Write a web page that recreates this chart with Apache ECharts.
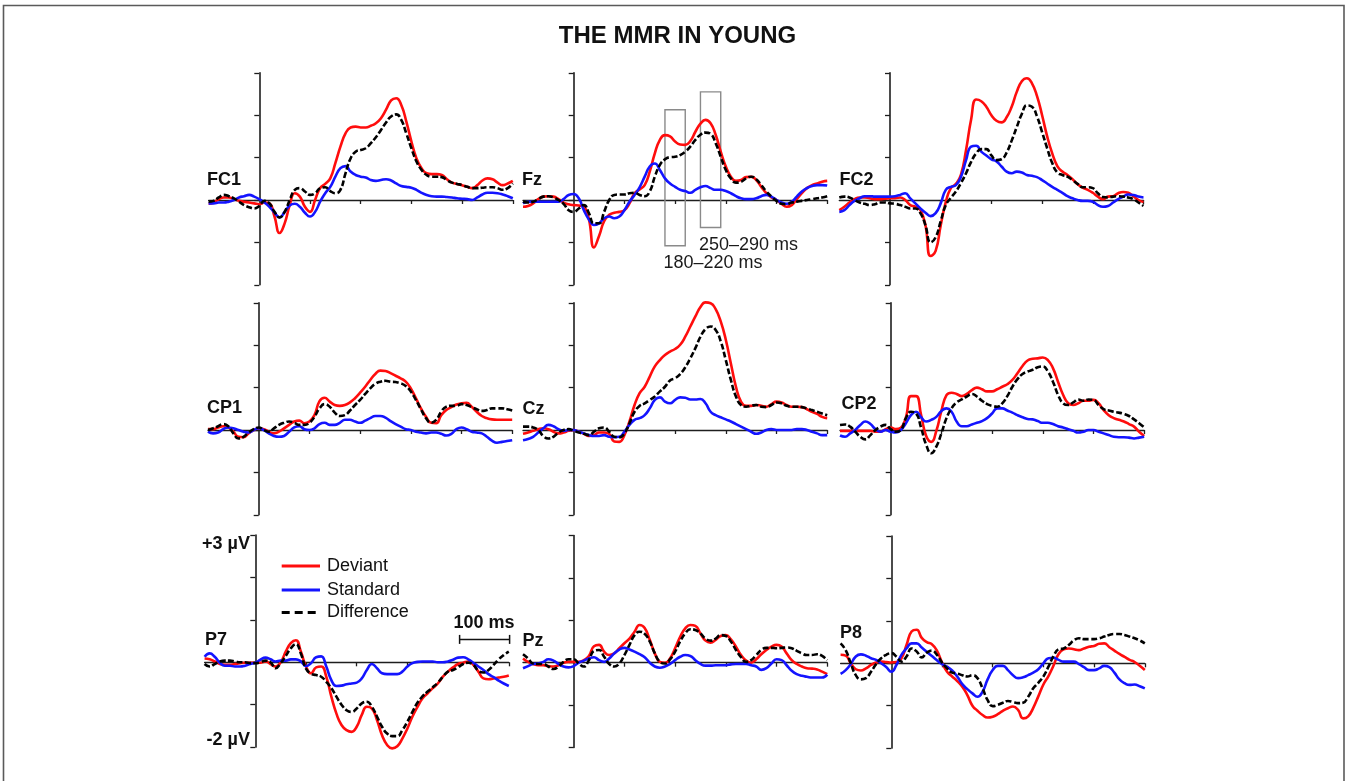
<!DOCTYPE html>
<html><head><meta charset="utf-8">
<script src="https://cdn.jsdelivr.net/npm/echarts@6/dist/echarts.min.js"></script>
<style>html,body{margin:0;padding:0;background:#fff}#c{width:1346px;height:781px}</style>
</head><body><div id="c"></div><script>
// ---- data (ms, µV) ----
const times = [-100,-90,-80,-70,-60,-50,-40,-30,-20,-10,0,
 10,20,30,40,50, 60,70,80,90,100, 110,120,130,140,150, 160,170,180,190,200,
 210,220,230,240,250, 260,270,280,290,300, 310,320,330,340,350, 360,370,380,390,400,
 410,420,430,440,450, 460,470,480,490,500];
const channels = ['FC1','Fz','FC2','CP1','Cz','CP2','P7','Pz','P8'];
const conditions = ['Deviant','Standard','Difference'];

const fc1Deviant = [-0.09,-0.06,0.02,0.06,0.06,0.02,-0.02,-0.04,-0.06,-0.08,-0.1,
 -0.06,-0.08,-0.39,-0.78,-0.55, -0.12,0.16,0.08,-0.16,-0.28, 0,0.28,0.38,0.51,0.87,
 1.26,1.57,1.71,1.73,1.71, 1.71,1.75,1.81,1.93,2.13, 2.35,2.4,2.24,1.85,1.38,
 0.98,0.75,0.63,0.61,0.61, 0.59,0.49,0.41,0.38,0.35, 0.31,0.28,0.35,0.46,0.51, 0.49,0.41,0.35,0.39,0.45];
const fc1Standard = [-0.08,-0.08,-0.06,-0.06,-0.04,0,0.06,0.09,0.12,0.08,0.02,
 -0.06,-0.16,-0.3,-0.41,-0.28, -0.13,-0.09,-0.16,-0.3,-0.39, -0.28,-0.04,0.16,0.31,0.55,
 0.75,0.8,0.67,0.59,0.55, 0.53,0.47,0.45,0.47,0.49, 0.46,0.39,0.33,0.31,0.29,
 0.24,0.17,0.12,0.09,0.08, 0.08,0.07,0.06,0.04,0.03, 0.02,0,0.06,0.13,0.17, 0.17,0.16,0.13,0.09,0.04];
const fc1Difference = [-0.04,-0.02,0.06,0.12,0.09,0.04,-0.04,-0.12,-0.17,-0.2,-0.14,
 -0.02,-0.08,-0.28,-0.41,-0.28, 0,0.24,0.28,0.2,0.12, 0.16,0.28,0.3,0.21,0.16,
 0.24,0.63,0.98,1.14,1.18, 1.22,1.34,1.48,1.65,1.83, 1.97,2.02,1.89,1.57,1.22,
 0.91,0.71,0.59,0.55,0.55, 0.54,0.47,0.41,0.38,0.35, 0.31,0.28,0.28,0.29,0.3, 0.3,0.28,0.24,0.28,0.39];

const fzDeviant = [-0.16,-0.14,-0.08,0.02,0.08,0.09,0.08,0.02,-0.06,-0.1,-0.12,
 -0.13,-0.16,-0.45,-1.12,-0.85, -0.5,-0.35,-0.3,-0.28,-0.24, -0.08,0.16,0.25,0.35,0.67,
 1.1,1.42,1.53,1.5,1.38, 1.31,1.3,1.39,1.61,1.8, 1.89,1.81,1.54,1.14,0.79,
 0.55,0.45,0.47,0.54,0.55, 0.47,0.31,0.16,0.06,0, -0.09,-0.16,-0.12,0.02,0.16, 0.28,0.35,0.39,0.43,0.45];
const fzStandard = [-0.08,-0.04,-0.04,-0.04,-0.04,-0.04,-0.04,-0.04,0.02,0.12,0.14,
 0.04,-0.24,-0.46,-0.59,-0.55, -0.43,-0.39,-0.43,-0.39,-0.24, -0.04,0.12,0.3,0.55,0.79,
 0.86,0.71,0.51,0.39,0.31, 0.24,0.21,0.17,0.24,0.3, 0.33,0.28,0.24,0.24,0.21,
 0.16,0.09,0.04,0.02,0.02, 0.04,0.09,0.12,0.08,0, -0.06,-0.09,-0.04,0.08,0.2, 0.28,0.33,0.35,0.35,0.34];
const fzDifference = [-0.04,-0.06,-0.04,0.02,0.08,0.09,0.06,0,-0.09,-0.24,-0.28,
 -0.2,-0.12,-0.31,-0.55,-0.55, -0.28,0,0.12,0.13,0.13, 0.16,0.17,0.12,0.09,0.2,
 0.55,0.83,0.96,1.01,1.02, 1.06,1.14,1.26,1.42,1.54, 1.59,1.56,1.34,1.02,0.71,
 0.51,0.41,0.43,0.51,0.55, 0.49,0.35,0.2,0.08,-0.02, -0.09,-0.1,-0.06,-0.04,-0.02, 0,0.02,0.04,0.06,0.09];

const fc2Deviant = [-0.24,-0.16,-0.06,0.02,0.06,0.06,0.04,0.02,0.02,0.03,0.04,
 0.04,0.06,0,-0.12,-0.16, -0.24,-0.6,-1.32,-1.2,-0.6, -0.05,0.28,0.38,0.6,1.18,
 1.9,2.37,2.33,2.2,2.0, 1.87,1.83,1.95,2.2,2.55, 2.8,2.87,2.75,2.45,2.0,
 1.5,1.1,0.8,0.67,0.59, 0.49,0.37,0.29,0.24,0.17, 0.08,0.02,0.08,0.09,0.16, 0.19,0.17,0.09,0,-0.05];
const fc2Standard = [-0.28,-0.24,-0.12,-0.02,0.04,0.09,0.09,0.08,0.08,0.08,0.08,
 0.09,0.12,0.16,0.04,-0.08, -0.2,-0.3,-0.38,-0.31,-0.08, 0.24,0.31,0.35,0.55,0.94,
 1.26,1.28,1.14,1.05,0.96, 0.91,0.79,0.67,0.63,0.67, 0.65,0.59,0.57,0.54,0.47,
 0.39,0.31,0.24,0.17,0.09, 0.04,0,-0.02,-0.02,-0.04, -0.12,-0.16,-0.14,-0.06,0.02, 0.08,0.13,0.12,0.08,0.06];
const fc2Difference = [0.06,0.08,0.06,0,-0.06,-0.09,-0.12,-0.1,-0.06,-0.06,-0.08,
 -0.09,-0.12,-0.16,-0.2,-0.2, -0.31,-0.6,-1.0,-0.88,-0.5, -0.12,0.05,0.2,0.4,0.63,
 0.9,1.1,1.2,1.2,1.05, 0.94,0.96,1.12,1.4,1.72, 2.03,2.23,2.2,1.97,1.6,
 1.22,0.87,0.65,0.59,0.55, 0.47,0.38,0.3,0.3,0.28, 0.16,0.07,0.06,0.08,0.09, 0.08,0.06,0.02,-0.06,-0.14];

const cp1Deviant = [0.02,0.02,0.06,0.09,0.06,-0.04,-0.16,-0.17,-0.08,0,0.04,
 0.02,-0.04,-0.08,-0.04,0.04, 0.12,0.2,0.22,0.16,0.2, 0.35,0.68,0.76,0.67,0.59,
 0.57,0.59,0.65,0.75,0.88, 1.02,1.18,1.32,1.4,1.39, 1.34,1.28,1.22,1.14,0.98,
 0.75,0.51,0.31,0.17,0.16, 0.35,0.47,0.54,0.6,0.63, 0.64,0.55,0.43,0.33,0.28, 0.25,0.24,0.24,0.24,0.24];
const cp1Standard = [-0.04,-0.08,-0.06,0.02,0.06,0.04,0,-0.04,-0.06,0,0.04,
 0,-0.08,-0.14,-0.16,-0.14, -0.04,0.06,0.09,0.02,0, 0.04,0.14,0.17,0.12,0.12,
 0.17,0.24,0.24,0.2,0.17, 0.22,0.28,0.33,0.33,0.29, 0.21,0.14,0.08,0.02,0,
 -0.04,-0.06,-0.08,-0.06,-0.06, -0.09,-0.13,-0.09,0.02,0.06, 0.02,-0.04,-0.06,-0.08,-0.16, -0.25,-0.3,-0.28,-0.26,-0.24];
const cp1Difference = [0,0.04,0.09,0.14,0.09,-0.08,-0.2,-0.16,-0.06,0.02,0.06,
 0,-0.04,0.04,0.12,0.17, 0.2,0.17,0.12,0.12,0.17, 0.31,0.51,0.61,0.55,0.41,
 0.33,0.35,0.46,0.59,0.71, 0.85,0.98,1.09,1.14,1.16, 1.14,1.13,1.1,1.04,0.91,
 0.71,0.49,0.28,0.17,0.24, 0.43,0.55,0.57,0.57,0.61, 0.59,0.54,0.49,0.45,0.47, 0.51,0.51,0.51,0.49,0.46];

const czDeviant = [-0.09,-0.06,-0.02,0.02,0.04,0.02,-0.04,-0.08,-0.06,-0.02,0,
 -0.04,-0.09,-0.14,-0.12,-0.06, -0.06,-0.09,-0.27,-0.28,-0.12, 0.2,0.59,0.87,1.02,1.26,
 1.5,1.65,1.77,1.85,1.91, 2.01,2.2,2.44,2.68,2.9, 3.01,2.99,2.85,2.56,2.13,
 1.57,1.02,0.67,0.57,0.57, 0.59,0.57,0.55,0.61,0.67, 0.65,0.59,0.55,0.55,0.54, 0.49,0.43,0.38,0.31,0.28];
const czStandard = [-0.24,-0.21,-0.16,-0.06,0.04,0.12,0.09,0.02,-0.02,0,0,
 -0.04,-0.08,-0.12,-0.14,-0.14, -0.12,-0.16,-0.17,-0.16,-0.04, 0.12,0.24,0.28,0.35,0.51,
 0.71,0.77,0.67,0.63,0.71, 0.77,0.76,0.72,0.72,0.73, 0.63,0.43,0.35,0.3,0.25,
 0.2,0.14,0.08,0.02,-0.04, -0.09,-0.06,0,0.02,0, 0,0,0,0.02,0.02, 0,-0.04,-0.08,-0.12,-0.12];
const czDifference = [0.08,0.08,0.06,0,-0.14,-0.2,-0.16,-0.06,0,0.02,-0.02,
 -0.06,-0.09,-0.12,-0.04,0.04, 0.06,-0.04,-0.16,-0.17,-0.08, 0.16,0.43,0.57,0.63,0.71,
 0.79,0.91,1.02,1.17,1.22, 1.32,1.48,1.69,1.93,2.2, 2.38,2.44,2.36,2.09,1.65,
 1.18,0.79,0.59,0.55,0.57, 0.59,0.55,0.54,0.59,0.65, 0.63,0.57,0.55,0.55,0.54, 0.51,0.47,0.43,0.39,0.35];

const cp2Deviant = [-0.02,-0.02,-0.02,-0.02,-0.02,-0.02,-0.02,-0.04,-0.04,0.02,0.06,
 0.02,0.05,0.3,0.8,0.8, 0.35,-0.14,-0.28,-0.02,0.45, 0.82,0.88,0.85,0.8,0.85,
 0.94,1.0,0.96,0.91,0.91, 0.96,1.02,1.08,1.18,1.34, 1.51,1.64,1.68,1.69,1.71,
 1.65,1.46,1.14,0.83,0.63, 0.59,0.63,0.69,0.69,0.71, 0.63,0.47,0.35,0.28,0.24, 0.2,0.14,0.08,-0.04,-0.14];
const cp2Standard = [-0.13,-0.16,-0.08,0,0.12,0.2,0.14,0.02,-0.04,0,-0.04,
 -0.06,0,0.16,0.35,0.43, 0.3,0.2,0.24,0.31,0.45, 0.51,0.43,0.2,0.09,0.09,
 0.13,0.17,0.21,0.28,0.39, 0.51,0.51,0.46,0.41,0.35, 0.3,0.26,0.25,0.21,0.17,
 0.17,0.14,0.09,0.06,0.02, -0.02,-0.06,-0.04,0,0, -0.04,-0.08,-0.12,-0.16,-0.17, -0.17,-0.18,-0.2,-0.18,-0.16];
const cp2Difference = [0.12,0.13,0.08,-0.04,-0.16,-0.22,-0.12,0,0.08,0.12,0.02,
 -0.04,0,0.28,0.43,0.39, 0.05,-0.35,-0.55,-0.39,-0.08, 0.28,0.51,0.65,0.72,0.79,
 0.85,0.79,0.69,0.61,0.57, 0.55,0.63,0.8,1.02,1.2, 1.32,1.38,1.42,1.48,1.5,
 1.38,1.14,0.83,0.63,0.59, 0.65,0.72,0.69,0.72,0.71, 0.59,0.49,0.46,0.43,0.41, 0.38,0.33,0.25,0.16,0.06];

const p7Deviant = [0.09,0.07,0.02,-0.04,-0.06,-0.06,-0.04,-0.02,-0.01,-0.01,-0.01,
 -0.01,0.02,-0.04,-0.1,0, 0.25,0.45,0.52,0.25,-0.1, -0.26,-0.12,-0.1,-0.34,-0.81,
 -1.21,-1.48,-1.6,-1.64,-1.52, -1.24,-1.05,-1.09,-1.36,-1.72, -1.95,-2.03,-1.98,-1.8,-1.56,
 -1.28,-1.05,-0.85,-0.73,-0.61, -0.5,-0.34,-0.22,-0.12,-0.04, -0.01,0.02,-0.06,-0.22,-0.38, -0.4,-0.38,-0.36,-0.34,-0.31];
const p7Standard = [0.13,0.21,0.13,-0.01,-0.08,-0.08,-0.1,-0.1,-0.08,-0.04,-0.01,
 0.06,0.11,0.07,0.02,0.04, 0.04,0.07,0.07,0.02,-0.09, -0.02,0.12,0.14,-0.1,-0.42,
 -0.56,-0.55,-0.52,-0.5,-0.48, -0.38,-0.18,-0.04,-0.14,-0.26, -0.28,-0.28,-0.28,-0.22,-0.1,
 -0.02,0.01,0.02,0.02,0.02, 0,0,0.02,0.06,0.11, 0.12,0.07,-0.01,-0.1,-0.18, -0.28,-0.35,-0.43,-0.5,-0.56];
const p7Difference = [-0.04,-0.1,-0.04,0.02,0.04,0.04,0.02,0,0,-0.02,-0.02,
 0,0.04,0,-0.14,-0.02, 0.15,0.33,0.43,0.2,-0.15, -0.27,-0.3,-0.34,-0.46,-0.61,
 -0.81,-1.0,-1.13,-1.17,-1.09, -0.97,-0.93,-1.05,-1.28,-1.52, -1.68,-1.74,-1.74,-1.6,-1.4,
 -1.17,-0.95,-0.8,-0.69,-0.59, -0.48,-0.34,-0.22,-0.18,-0.12, -0.04,-0.01,-0.06,-0.2,-0.24, -0.18,-0.06,0.07,0.17,0.25];

const pzDeviant = [0.1,0.02,-0.03,-0.06,-0.06,-0.08,-0.09,-0.06,0,0.02,0.02,
 0.02,0.06,0.16,0.39,0.42, 0.26,0.18,0.22,0.34,0.46, 0.57,0.73,0.89,0.82,0.54,
 0.22,0.02,0,0.1,0.34, 0.61,0.81,0.89,0.87,0.69, 0.52,0.47,0.54,0.63,0.65,
 0.55,0.38,0.18,0.05,0, 0.08,0.2,0.3,0.38,0.42, 0.38,0.22,0.06,-0.03,-0.09, -0.13,-0.14,-0.16,-0.21,-0.27];
const pzStandard = [-0.13,-0.08,-0.03,-0.02,0.02,0.08,0.05,-0.03,-0.09,-0.11,-0.08,
 0,0.05,0.1,0.13,0.06, 0.02,0.1,0.22,0.31,0.35, 0.31,0.26,0.2,0.13,0,
 -0.09,-0.12,-0.09,-0.03,0.06, 0.14,0.18,0.16,0.06,-0.03, -0.07,-0.07,-0.06,-0.06,-0.06,
 -0.04,-0.03,-0.03,-0.03,-0.06, -0.09,-0.17,-0.13,-0.02,0.08, 0.06,-0.06,-0.19,-0.27,-0.31, -0.33,-0.35,-0.35,-0.35,-0.28];
const pzDifference = [0.2,0.1,-0.02,-0.03,-0.03,-0.09,-0.15,-0.09,0.02,0.08,0.08,
 -0.02,-0.09,0.06,0.28,0.3, 0.14,-0.03,-0.09,-0.02,0.18, 0.42,0.65,0.73,0.68,0.5,
 0.22,0.02,-0.02,0.08,0.26, 0.5,0.69,0.79,0.77,0.69, 0.57,0.52,0.57,0.65,0.63,
 0.5,0.3,0.13,0.02,0.06, 0.18,0.3,0.35,0.35,0.34, 0.35,0.36,0.34,0.28,0.22, 0.18,0.18,0.2,0.16,0.06];

const p8Deviant = [0.2,0.18,0,-0.14,-0.17,-0.12,-0.04,0.02,0.04,0.03,0.02,
 0.03,0.12,0.43,0.75,0.79, 0.6,0.5,0.45,0.3,0.02, -0.2,-0.31,-0.42,-0.55,-0.75,
 -1.0,-1.12,-1.22,-1.28,-1.26, -1.2,-1.12,-1.06,-1.02,-1.1, -1.3,-1.25,-1.05,-0.78,-0.5,
 -0.3,-0.05,0.22,0.33,0.35, 0.33,0.31,0.35,0.39,0.41, 0.46,0.47,0.38,0.3,0.22, 0.15,0.08,0.03,-0.06,-0.16];
const p8Standard = [-0.25,-0.16,-0.02,0.16,0.21,0.18,0.12,0.08,0,-0.09,-0.2,
 -0.04,0.2,0.35,0.47,0.47, 0.37,0.27,0.17,0.07,-0.02, -0.08,-0.17,-0.31,-0.49,-0.61,
 -0.71,-0.79,-0.67,-0.38,-0.16, -0.06,-0.06,-0.16,-0.28,-0.35, -0.33,-0.28,-0.22,-0.14,0,
 0.12,0.13,0.08,0.04,0.04, 0.04,-0.02,-0.09,-0.16,-0.16, -0.12,-0.06,-0.09,-0.22,-0.38, -0.47,-0.51,-0.5,-0.54,-0.59];
const p8Difference = [0.47,0.31,0,-0.28,-0.38,-0.35,-0.2,-0.02,0.12,0.2,0.24,
 0.16,0.04,0.16,0.35,0.28, 0.14,0.25,0.3,0.2,0.02, -0.12,-0.22,-0.24,-0.28,-0.31,
 -0.28,-0.35,-0.59,-0.87,-1.01, -0.98,-0.93,-0.89,-0.91,-0.94, -0.93,-0.79,-0.59,-0.46,-0.31,
 -0.08,0.17,0.33,0.35,0.43, 0.54,0.59,0.57,0.57,0.57, 0.59,0.63,0.67,0.69,0.69, 0.67,0.63,0.59,0.54,0.47];

// analysis windows drawn in Fz (ms) and their box extents (µV)
const windowsMs = [[180, 220], [250, 290]];
const windowBoxUv = [[2.13, -1.08], [2.55, -0.65]];
const windowLabels = ['180–220 ms', '250–290 ms'];
const legendLabels = ['Deviant', 'Standard', 'Difference'];
const yScaleLabels = ['+3 µV', '-2 µV'];
const timeBarLabel = '100 ms';
const title = 'THE MMR IN YOUNG';

const panelData = [
  [fc1Deviant, fc1Standard, fc1Difference],
  [fzDeviant, fzStandard, fzDifference],
  [fc2Deviant, fc2Standard, fc2Difference],
  [cp1Deviant, cp1Standard, cp1Difference],
  [czDeviant, czStandard, czDifference],
  [cp2Deviant, cp2Standard, cp2Difference],
  [p7Deviant, p7Standard, p7Difference],
  [pzDeviant, pzStandard, pzDifference],
  [p8Deviant, p8Standard, p8Difference]
];

// ---- layout ----
const T_MIN = -100, T_MAX = 500, V_MIN = -2, V_MAX = 3;
const PX_PER_MS = 0.507, PX_PER_UV = 42.4;
const onsetX = [259.3, 573.7, 890, 258.7, 573.7, 890.7, 255.3, 573.7, 891.3];
const zeroY = [200, 200, 200, 430, 430, 430, 662.3, 662.7, 663.3];
const labelPos = [[207,180],[522,180.5],[839.5,180],[207,408.5],[522.5,409],[841.5,404],[205,640.5],[522.5,641],[840,633]];
const COLORS = { Deviant: '#ff0d0d', Standard: '#1414ff', Difference: '#000000' };
const FONT = '"Liberation Sans", Arial, sans-serif';
const AX = { color: '#1e1e1e', width: 1.3 };

const grids = [], xAxes = [], yAxes = [], series = [];
channels.forEach((ch, i) => {
  grids.push({
    left: onsetX[i] + T_MIN * PX_PER_MS,
    top: zeroY[i] - V_MAX * PX_PER_UV,
    width: (T_MAX - T_MIN) * PX_PER_MS,
    height: (V_MAX - V_MIN) * PX_PER_UV,
    containLabel: false, outerBoundsMode: 'none'
  });
  xAxes.push({
    type: 'value', gridIndex: i, min: T_MIN, max: T_MAX, interval: 100,
    axisLine: { show: true, onZero: true, lineStyle: AX },
    axisTick: { show: true, length: 4, customValues: [100, 200, 300, 400, 500], lineStyle: AX },
    axisLabel: { show: false }, splitLine: { show: false }
  });
  yAxes.push({
    type: 'value', gridIndex: i, min: V_MIN, max: V_MAX, interval: 1,
    axisLine: { show: true, onZero: true, lineStyle: { color: '#1e1e1e', width: 1.6 } },
    axisTick: { show: true, length: 5, lineStyle: AX },
    axisLabel: { show: false }, splitLine: { show: false }
  });
  // draw order: Standard, Deviant, Difference
  [1, 0, 2].forEach(ci => {
    const cond = conditions[ci];
    const s = {
      type: 'line', name: cond, xAxisIndex: i, yAxisIndex: i,
      data: times.map((t, k) => [t, panelData[i][ci][k]]),
      smooth: 0.5, showSymbol: false, symbol: 'none', silent: true, animation: false,
      clip: false,
      lineStyle: { color: COLORS[cond], width: 2.6, type: cond === 'Difference' ? [6, 2.5] : 'solid', cap: 'butt' },
      z: 3 + ci
    };
    if (ch === 'Fz' && cond === 'Standard') {
      s.markArea = {
        silent: true,
        itemStyle: { color: 'rgba(0,0,0,0)', borderColor: '#8a8a8a', borderWidth: 1.4 },
        label: { show: false },
        data: windowsMs.map((w, k) => [{ coord: [w[0], windowBoxUv[k][0]] }, { coord: [w[1], windowBoxUv[k][1]] }])
      };
    }
    series.push(s);
  });
});

// ---- annotations ----
const graphics = [];
graphics.push({ type: 'rect', silent: true, z: -10, shape: { x: 3.5, y: 5.5, width: 1340.5, height: 800 },
  style: { fill: 'none', stroke: '#5a5a5a', lineWidth: 1.6 } });
graphics.push({ type: 'text', x: 677.5, y: 36, silent: true,
  style: { text: title, font: 'bold 24px ' + FONT, fill: '#111', align: 'center', verticalAlign: 'middle' } });
channels.forEach((ch, i) => {
  graphics.push({ type: 'text', x: labelPos[i][0], y: labelPos[i][1], silent: true, z: 20,
    style: { text: ch, font: 'bold 18px ' + FONT, fill: '#111', align: 'left', verticalAlign: 'middle' } });
});
// window labels under the Fz boxes
const fzIdx = channels.indexOf('Fz');
windowsMs.forEach((w, k) => {
  const x = onsetX[fzIdx] + w[0] * PX_PER_MS - 1.5;
  const y = zeroY[fzIdx] - windowBoxUv[k][1] * PX_PER_UV + 17.5;
  graphics.push({ type: 'text', x: x, y: y, silent: true,
    style: { text: windowLabels[k], font: '18px ' + FONT, fill: '#1a1a1a', align: 'left', verticalAlign: 'middle' } });
});
// µV scale labels on P7
const p7 = channels.indexOf('P7');
graphics.push({ type: 'text', x: 250, y: zeroY[p7] - V_MAX * PX_PER_UV + 9, silent: true,
  style: { text: yScaleLabels[0], font: 'bold 18px ' + FONT, fill: '#111', align: 'right', verticalAlign: 'middle' } });
graphics.push({ type: 'text', x: 250, y: zeroY[p7] - V_MIN * PX_PER_UV - 7, silent: true,
  style: { text: yScaleLabels[1], font: 'bold 18px ' + FONT, fill: '#111', align: 'right', verticalAlign: 'middle' } });
// 100 ms scale bar
const barY = zeroY[p7] - 0.54 * PX_PER_UV;
const barX0 = onsetX[p7] + 400 * PX_PER_MS + 1.5, barX1 = onsetX[p7] + 500 * PX_PER_MS + 0.8;
const barStyle = { stroke: '#111', lineWidth: 1.5 };
graphics.push({ type: 'line', silent: true, shape: { x1: barX0, y1: barY, x2: barX1, y2: barY }, style: barStyle });
graphics.push({ type: 'line', silent: true, shape: { x1: barX0, y1: barY - 4.5, x2: barX0, y2: barY + 4.5 }, style: barStyle });
graphics.push({ type: 'line', silent: true, shape: { x1: barX1, y1: barY - 4.5, x2: barX1, y2: barY + 4.5 }, style: barStyle });
graphics.push({ type: 'text', x: (barX0 + barX1) / 2 - 0.5, y: barY - 16.5, silent: true,
  style: { text: timeBarLabel, font: 'bold 18px ' + FONT, fill: '#111', align: 'center', verticalAlign: 'middle' } });
// legend
const legY = [566, 590, 612.5];
legendLabels.forEach((name, k) => {
  graphics.push({ type: 'line', silent: true, shape: { x1: 281.7, y1: legY[k], x2: 320, y2: legY[k] },
    style: { stroke: COLORS[name], lineWidth: 3, lineDash: name === 'Difference' ? [8, 5] : null } });
  graphics.push({ type: 'text', x: 327, y: legY[k], silent: true,
    style: { text: name, font: '18px ' + FONT, fill: '#111', align: 'left', verticalAlign: 'middle' } });
});

const chart = echarts.init(document.getElementById('c'), null, { renderer: 'canvas' });
chart.setOption({
  backgroundColor: '#ffffff',
  animation: false,
  grid: grids, xAxis: xAxes, yAxis: yAxes, series: series,
  graphic: { elements: graphics }
});
</script></body></html>
